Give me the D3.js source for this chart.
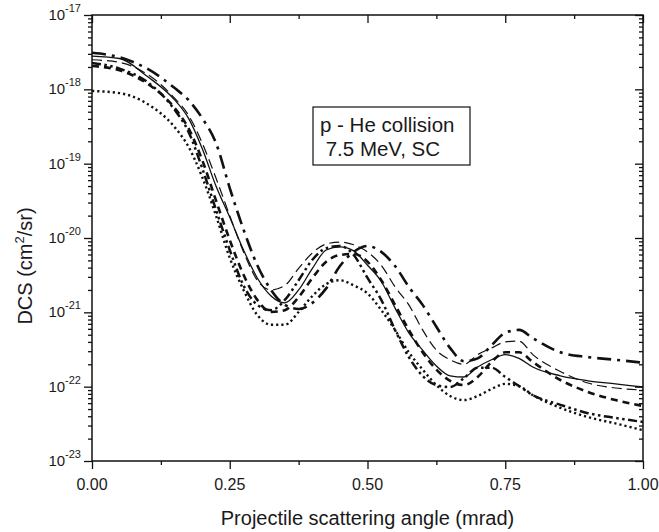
<!DOCTYPE html>
<html>
<head>
<meta charset="utf-8">
<script src="https://cdn.jsdelivr.net/npm/d3@7"></script>
<style>
  body { margin: 0; background: #fff; }
  text { font-family: "Liberation Sans", Arial, sans-serif; fill: #1a1a1a; }
</style>
</head>
<body>
<svg id="chart" width="659" height="532"></svg>
<script>
// projectile scattering angle (mrad)
const angles = [0, 0.05, 0.1, 0.15, 0.175, 0.2, 0.225, 0.25, 0.275, 0.3, 0.325, 0.35, 0.375, 0.4,
    0.425, 0.45, 0.475, 0.5, 0.525, 0.55, 0.575, 0.6, 0.625, 0.65, 0.675, 0.7, 0.725, 0.75,
    0.775, 0.8, 0.85, 0.9, 0.95, 1.0];

// DCS (cm^2/sr)
const dcsSolid = [2.8e-18, 2.6e-18, 1.5e-18, 7.2e-19, 4.1e-19, 1.6e-19, 5.0e-20, 1.9e-20, 6.9e-21, 2.9e-21,
    1.66e-21, 1.34e-21, 2.0e-21, 3.9e-21, 6.9e-21, 7.6e-21, 6.7e-21, 4.3e-21, 2.6e-21, 1.14e-21,
    5.3e-22, 3.1e-22, 1.9e-22, 1.4e-22, 1.35e-22, 1.84e-22, 2.3e-22, 2.7e-22, 2.4e-22, 1.84e-22,
    1.4e-22, 1.2e-22, 1.09e-22, 9.9e-23];
const dcsDotted = [9.5e-19, 8.9e-19, 6.4e-19, 3.1e-19, 1.7e-19, 6.6e-20, 2.0e-20, 5.4e-21, 2.0e-21, 9.2e-22,
    6.8e-22, 6.8e-22, 1.01e-21, 1.66e-21, 2.4e-21, 2.7e-21, 2.3e-21, 1.8e-21, 1.07e-21, 5.8e-22,
    2.9e-22, 1.7e-22, 1.05e-22, 7.5e-23, 6.6e-23, 7.5e-23, 9.3e-23, 1.09e-22, 1.02e-22, 7.7e-23,
    5.2e-23, 3.9e-23, 3.2e-23, 2.6e-23];
const dcsDashDot = [3.1e-18, 2.7e-18, 1.9e-18, 1.04e-18, 7.2e-19, 4.1e-19, 1.9e-19, 4.7e-20, 1.3e-20, 4.3e-21,
    2.0e-21, 1.26e-21, 1.11e-21, 1.34e-21, 2.1e-21, 4.2e-21, 6.5e-21, 7.8e-21, 6.5e-21, 4.2e-21,
    2.2e-21, 1.26e-21, 6.4e-22, 3.3e-22, 2.2e-22, 2.4e-22, 3.6e-22, 5.3e-22, 5.8e-22, 4.5e-22,
    2.9e-22, 2.5e-22, 2.3e-22, 2.1e-22];
const dcsThinDash = [2.5e-18, 2.3e-18, 1.6e-18, 7.6e-19, 4.5e-19, 1.9e-19, 6.4e-20, 2.0e-20, 6.5e-21, 2.7e-21,
    2.0e-21, 2.3e-21, 3.9e-21, 6.3e-21, 8.3e-21, 8.8e-21, 8.1e-21, 6.5e-21, 4.3e-21, 2.2e-21,
    1.26e-21, 5.8e-22, 3.1e-22, 2.3e-22, 2.0e-22, 2.7e-22, 3.3e-22, 4.0e-22, 4.1e-22, 2.7e-22,
    1.6e-22, 1.12e-22, 9.6e-23, 9.0e-23];
const dcsDash = [2.06e-18, 1.8e-18, 1.2e-18, 5.6e-19, 3.0e-19, 1.12e-19, 3.2e-20, 9.4e-21, 3.2e-21, 1.47e-21,
    1.01e-21, 1.07e-21, 1.6e-21, 2.9e-21, 4.8e-21, 5.9e-21, 6.1e-21, 4.8e-21, 2.7e-21, 1.26e-21,
    5.8e-22, 2.9e-22, 1.7e-22, 1.2e-22, 1.05e-22, 1.35e-22, 2.15e-22, 2.9e-22, 2.9e-22, 2.15e-22,
    1.23e-22, 8.5e-23, 6.6e-23, 5.5e-23];
const dcsDashDotDot = [2.26e-18, 1.9e-18, 1.26e-18, 5.3e-19, 2.7e-19, 8.7e-20, 2.4e-20, 6.9e-21, 2.3e-21, 1.26e-21,
    1.07e-21, 1.47e-21, 2.7e-21, 5.1e-21, 7.3e-21, 7.8e-21, 5.9e-21, 2.9e-21, 1.47e-21, 5.8e-22,
    2.5e-22, 1.4e-22, 1.05e-22, 9.9e-23, 1.3e-22, 1.8e-22, 1.8e-22, 1.35e-22, 1.02e-22, 7.7e-23,
    5.7e-23, 4.4e-23, 3.8e-23, 3.35e-23];

const xTicks = [0, 0.25, 0.5, 0.75, 1.0];
const xMinorTicks = [0.125, 0.375, 0.625, 0.875];
const yDecades = [-17, -18, -19, -20, -21, -22, -23];
const boxLines = ['p - He collision', ' 7.5 MeV, SC'];

const size = {w: 659, h: 532};
const margin = {l: 92, r: 16, t: 15, b: 71};
const cw = size.w - margin.l - margin.r;
const ch = size.h - margin.t - margin.b;

const svg = d3.select('#chart');
const canvas = svg.append('g')
    .attr('transform', `translate(${margin.l}, ${margin.t})`);

let xScale = d3.scaleLinear().domain([0, 1]).range([0, cw]);
let yScale = d3.scaleLog().domain([1e-23, 1e-17]).range([ch, 0]);

// curves
let series = [
    {values: dcsDotted, width: 2.4, dash: '2.2,3'},
    {values: dcsDashDotDot, width: 2.5, dash: '9,3.5,2.5,3.5,2.5,3.5'},
    {values: dcsDash, width: 2.6, dash: '7,5'},
    {values: dcsThinDash, width: 1.2, dash: '10,5'},
    {values: dcsDashDot, width: 2.6, dash: '14,6,3,6'},
    {values: dcsSolid, width: 1.3, dash: null}
];

let line = d3.line()
    .x(d => xScale(d[0]))
    .y(d => yScale(d[1]))
    .curve(d3.curveMonotoneX);

canvas.selectAll('.curve')
    .data(series)
    .join('path')
    .classed('curve', true)
    .attr('d', s => line(angles.map((a, i) => [a, s.values[i]])))
    .attr('fill', 'none')
    .attr('stroke', '#111')
    .attr('stroke-width', s => s.width)
    .attr('stroke-dasharray', s => s.dash);

// axes: ticks only, labels drawn by hand
let allY = yScale.ticks();
let majorY = allY.filter(v => Math.abs(Math.log10(v) - Math.round(Math.log10(v))) < 1e-6);
let minorY = allY.filter(v => !majorY.includes(v));

function tickAxis(axis, values, len, transform){
    canvas.append('g')
        .attr('transform', transform)
        .call(axis.tickValues(values).tickSize(len).tickFormat(''))
        .call(g => g.select('.domain').remove())
        .call(g => g.selectAll('line').attr('stroke', '#111').attr('stroke-width', 1.3));
}
tickAxis(d3.axisLeft(yScale), majorY, 8, 'translate(0,0)');
tickAxis(d3.axisLeft(yScale), minorY, 4, 'translate(0,0)');
tickAxis(d3.axisLeft(yScale), majorY, 8, `translate(${cw},0)`);
tickAxis(d3.axisLeft(yScale), minorY, 4, `translate(${cw},0)`);
tickAxis(d3.axisBottom(xScale), xTicks, 8, `translate(0,${ch})`);
tickAxis(d3.axisBottom(xScale), xMinorTicks, 4, `translate(0,${ch})`);
tickAxis(d3.axisBottom(xScale), xTicks, 8, 'translate(0,0)');
tickAxis(d3.axisBottom(xScale), xMinorTicks, 4, 'translate(0,0)');

canvas.append('rect')
    .attr('width', cw)
    .attr('height', ch)
    .attr('fill', 'none')
    .attr('stroke', '#111')
    .attr('stroke-width', 1.5);

// y tick labels 10^n
let yLab = canvas.selectAll('.yLab')
    .data(yDecades)
    .join('text')
    .classed('yLab', true)
    .attr('x', -11)
    .attr('y', d => yScale(Math.pow(10, d)) + 5)
    .attr('text-anchor', 'end')
    .style('font-size', '15px');
yLab.append('tspan').text('10');
yLab.append('tspan').attr('dy', -8).style('font-size', '11px').text(d => d);

canvas.selectAll('.xLab')
    .data(xTicks)
    .join('text')
    .classed('xLab', true)
    .attr('x', d => xScale(d))
    .attr('y', ch + 29)
    .attr('text-anchor', 'middle')
    .style('font-size', '16px')
    .text(d => d3.format('.2f')(d));

// axis titles
canvas.append('text')
    .attr('x', cw / 2)
    .attr('y', ch + 64)
    .attr('text-anchor', 'middle')
    .style('font-size', '20px')
    .text('Projectile scattering angle (mrad)');

let yTitle = canvas.append('text')
    .attr('transform', `translate(${-60}, ${ch / 2 + 28}) rotate(-90)`)
    .attr('text-anchor', 'middle')
    .style('font-size', '20px');
yTitle.append('tspan').text('DCS (cm');
yTitle.append('tspan').attr('dy', -8).style('font-size', '13px').text('2');
yTitle.append('tspan').attr('dy', 8).text('/sr)');

// annotation box
let box = svg.append('g').attr('transform', 'translate(313, 107)');
box.append('rect')
    .attr('width', 157)
    .attr('height', 58)
    .attr('fill', '#fff')
    .attr('stroke', '#111')
    .attr('stroke-width', 1.2);
box.selectAll('text')
    .data(boxLines)
    .join('text')
    .attr('x', 7)
    .attr('y', (d, i) => 25 + i * 24)
    .style('font-size', '20.5px')
    .style('white-space', 'pre')
    .attr('xml:space', 'preserve')
    .text(d => d);
</script>
</body>
</html>
